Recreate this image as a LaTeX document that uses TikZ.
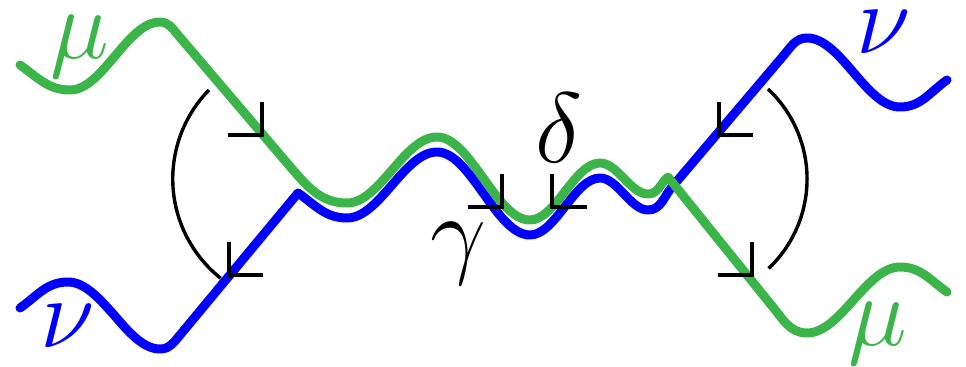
\documentclass[tikz,border=0pt]{standalone}
\definecolor{gr}{RGB}{59,181,74}
\definecolor{bl}{RGB}{0,0,255}
\begin{document}
\begin{tikzpicture}[x=0.25pt,y=0.25pt,
  wave/.style={line width=2.25pt, line cap=round, line join=round},
  tickmark/.style={line width=1pt},
  bracket/.style={line width=0.85pt},
  lab/.style={anchor=base, inner sep=0pt, font=\Huge}]
\useasboundingbox (0,0) rectangle (966,366);
% blue line
\draw[wave, bl] (20,58) to[out=35,in=180] (68,84) cos (114,51) sin (160,17)
  to[out=0,in=230] (180,31) -- (298,173)
  to[out=-35,in=180] (347,148) cos (392,181) sin (437,214)
  cos (483.5,172.5) sin (530,131) cos (565,159.5) sin (600,188)
  cos (624,172) sin (648,156) to[out=0,in=229.5] (672,179)
  -- (784,311) to[out=49.8,in=180] (807,328) cos (853.5,293.5) sin (900,259)
  to[out=0,in=215] (947,286);
% green line
\draw[wave, gr] (20,301) to[out=-35,in=180] (70,276) cos (115,310) sin (160,344)
  to[out=0,in=131] (178,331) -- (293,196)
  to[out=-49,in=180] (347,163) cos (392,196) sin (437,229)
  cos (483.5,187.5) sin (530,146) cos (565,174.5) sin (600,203)
  cos (624,187.5) sin (648,172) to[out=0,in=220] (668,189)
  -- (772,60) to[out=-50,in=180] (807,33) cos (853.5,66) sin (900,99)
  to[out=0,in=145] (947,74);
% tick marks
\draw[tickmark] (262,264) -- (262,231) -- (228,231);
\draw[tickmark] (229,124) -- (229,91) -- (263,91);
\draw[tickmark] (502,192) -- (502,159) -- (468,159);
\draw[tickmark] (552,192) -- (552,159) -- (587,159);
\draw[tickmark] (719,264) -- (719,231) -- (753,231);
\draw[tickmark] (752,124) -- (752,91) -- (718,91);
% arcs
\draw[bracket] (209,276) arc[start angle=135.6, end angle=231.5, radius=127];
\draw[bracket] (768,277) arc[start angle=46.9, end angle=-46.5, radius=123.3];
% labels
\node[lab, gr] (mu1) at (80,308) {$\mu$};
\node[lab, bl] (nu1) at (68,19) {$\nu$};
\node[lab, bl] (nu2) at (884,313) {$\nu$};
\node[lab, gr] (mu2) at (878,21) {$\mu$};
\node[lab] (delta) at (559,204) {$\delta$};
\node[lab] (gamma) at (458,101) {$\gamma$};
\end{tikzpicture}
\end{document}
